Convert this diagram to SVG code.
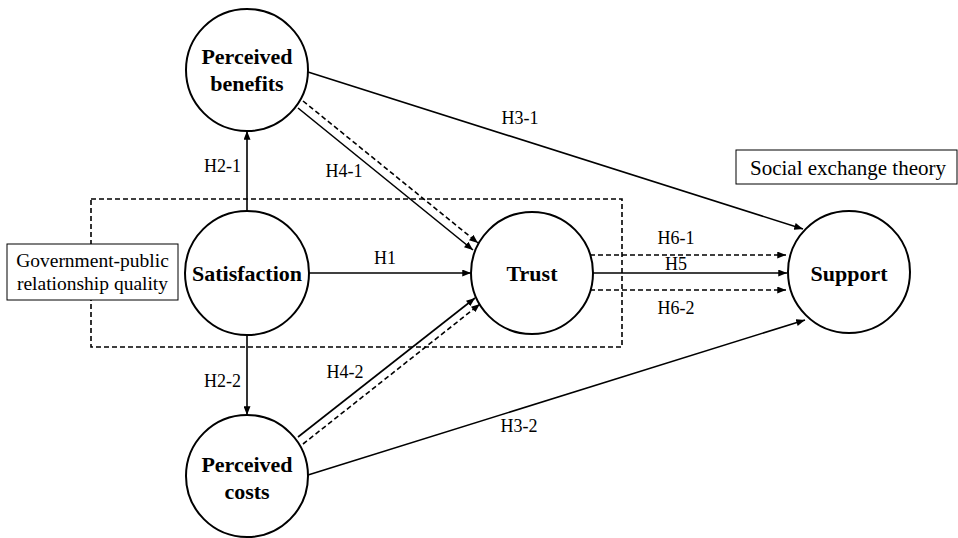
<svg xmlns="http://www.w3.org/2000/svg" width="958" height="538" viewBox="0 0 958 538">
<defs>
<marker id="ah" viewBox="0 0 10 8" refX="10" refY="4" markerWidth="9" markerHeight="7" markerUnits="userSpaceOnUse" orient="auto">
<path d="M0,0 L10,4 L0,8 z" fill="#000"/>
</marker>
<style>
.node circle{fill:#fff;stroke:#000;stroke-width:2}
.nl{font-family:"Liberation Serif",serif;font-weight:bold;font-size:22px;text-anchor:middle;fill:#000}
.el{font-family:"Liberation Serif",serif;font-size:18px;fill:#000}
.bx{font-family:"Liberation Serif",serif;font-size:19.5px;fill:#000}
.s{stroke:#000;stroke-width:1.6;fill:none}
.d{stroke:#000;stroke-width:1.6;fill:none;stroke-dasharray:5,3}
</style>
</defs>
<rect width="958" height="538" fill="#fff"/>
<rect x="91" y="199" width="531" height="148" class="d"/>
<g id="connectors">
<line class="s" x1="247" y1="211" x2="247" y2="131" marker-end="url(#ah)"/>
<line class="s" x1="247" y1="336" x2="247" y2="415" marker-end="url(#ah)"/>
<line class="s" x1="309" y1="273" x2="471" y2="273" marker-end="url(#ah)"/>
<line class="s" x1="593" y1="273" x2="787" y2="273" marker-end="url(#ah)"/>
<line class="d" x1="590" y1="255" x2="786" y2="255" marker-end="url(#ah)"/>
<line class="d" x1="590" y1="290" x2="786" y2="290" marker-end="url(#ah)"/>
<line class="s" x1="308" y1="72" x2="803" y2="229" marker-end="url(#ah)"/>
<line class="s" x1="308" y1="475" x2="805" y2="320" marker-end="url(#ah)"/>
<line class="s" x1="298" y1="108" x2="473" y2="250" marker-end="url(#ah)"/>
<line class="d" x1="303" y1="101" x2="478" y2="243" marker-end="url(#ah)"/>
<line class="s" x1="298" y1="437" x2="475" y2="298" marker-end="url(#ah)"/>
<line class="d" x1="303" y1="444" x2="480" y2="304" marker-end="url(#ah)"/>
</g>
<g id="edge-labels">
<text class="el" x="241" y="172" text-anchor="end">H2-1</text>
<text class="el" x="241" y="387" text-anchor="end">H2-2</text>
<text class="el" x="385" y="264" text-anchor="middle">H1</text>
<text class="el" x="344" y="177" text-anchor="middle">H4-1</text>
<text class="el" x="345" y="378" text-anchor="middle">H4-2</text>
<text class="el" x="676" y="244" text-anchor="middle">H6-1</text>
<text class="el" x="676" y="270" text-anchor="middle">H5</text>
<text class="el" x="676" y="314" text-anchor="middle">H6-2</text>
<text class="el" x="520" y="124" text-anchor="middle">H3-1</text>
<text class="el" x="519" y="432" text-anchor="middle">H3-2</text>
</g>
<g id="node-benefits" class="node">
<circle cx="247" cy="70" r="61"/>
<text class="nl" x="247" y="64">Perceived</text>
<text class="nl" x="247" y="91">benefits</text>
</g>
<g id="node-satisfaction" class="node">
<circle cx="247" cy="273" r="62"/>
<text class="nl" x="247" y="281">Satisfaction</text>
</g>
<g id="node-trust" class="node">
<circle cx="532" cy="273" r="61"/>
<text class="nl" x="532" y="281">Trust</text>
</g>
<g id="node-support" class="node">
<circle cx="849" cy="272" r="61"/>
<text class="nl" x="849" y="281">Support</text>
</g>
<g id="node-costs" class="node">
<circle cx="247" cy="476" r="61"/>
<text class="nl" x="247" y="472">Perceived</text>
<text class="nl" x="247" y="499">costs</text>
</g>
<g id="box-gpr">
<rect x="7" y="244" width="171" height="56" fill="#fff" stroke="#000" stroke-width="1"/>
<text class="bx" x="92.5" y="267" text-anchor="middle">Government-public</text>
<text class="bx" x="92.5" y="290" text-anchor="middle">relationship quality</text>
</g>
<g id="box-set">
<rect x="736" y="150" width="221" height="34" fill="#fff" stroke="#000" stroke-width="1"/>
<text class="bx" x="848" y="175" text-anchor="middle" style="font-size:21px">Social exchange theory</text>
</g>
</svg>
